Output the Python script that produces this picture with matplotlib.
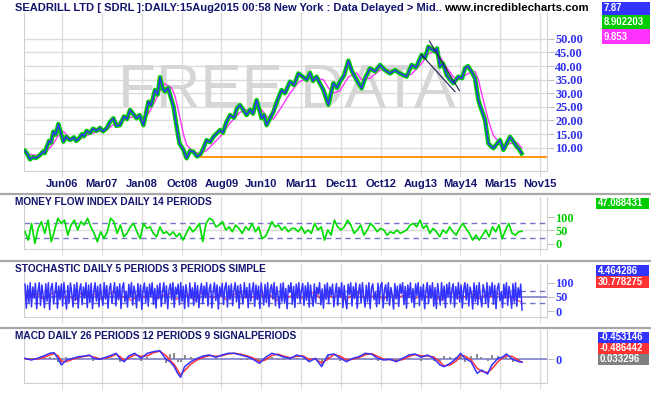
import numpy as np
import matplotlib

matplotlib.use("Agg")
import matplotlib.pyplot as plt
from matplotlib.lines import Line2D
from matplotlib.patches import Rectangle

plt.rcParams["font.family"] = ["Liberation Sans", "DejaVu Sans"]

W, H = 651, 395

# x axis is the trading session number counted from the first bar
tick_sessions = [190, 389, 588, 788, 987, 1186, 1385, 1584, 1784, 1983, 2182, 2381, 2580]
tick_labels = ["Jun06", "Mar07", "Jan08", "Oct08", "Aug09", "Jun10", "Mar11",
               "Dec11", "Oct12", "Aug13", "May14", "Mar15", "Nov15"]
last_session = 2615

# price panel
sessions = [5, 15, 30, 45, 60, 80, 95, 104, 113, 125, 135, 147, 158, 172, 182, 197,
            210, 230, 250, 260, 272, 290, 300, 313, 330, 345, 363, 380, 395, 413,
            430, 447, 462, 480, 500, 515, 530, 545, 563, 578, 597, 610, 622, 635,
            655, 668, 680, 692, 705, 720, 738, 748, 755, 767, 777, 797, 813, 830,
            847, 865, 880, 895, 913, 930, 947, 980, 995, 1010, 1030, 1050, 1065,
            1080, 1113, 1130, 1145, 1163, 1188, 1200, 1213, 1247, 1265, 1288, 1305,
            1330, 1350, 1372, 1413, 1430, 1445, 1463, 1480, 1497, 1522, 1535, 1547,
            1565, 1580, 1600, 1622, 1640, 1663, 1688, 1705, 1730, 1755, 1780, 1805,
            1830, 1855, 1880, 1913, 1938, 1960, 1988, 2005, 2022, 2055, 2065, 2080,
            2095, 2113, 2130, 2147, 2172, 2190, 2205, 2220, 2238, 2255, 2272, 2280,
            2288, 2305, 2322, 2335, 2347, 2380, 2397, 2410, 2430, 2445, 2463, 2475,
            2488]
close = [8.8, 7.9, 5.7, 6.5, 6.2, 7.3, 8.6, 8.0, 10.1, 12.5, 11.8, 15.9, 14.8, 18.7,
         16.0, 12.2, 14.0, 12.8, 13.8, 12.5, 13.1, 15.0, 14.2, 16.2, 15.4, 17.0, 16.2,
         17.3, 16.0, 17.1, 19.5, 20.8, 18.0, 18.3, 21.5, 20.5, 23.9, 22.5, 20.8, 22.0,
         18.3, 22.5, 26.9, 25.5, 31.2, 29.5, 35.9, 32.0, 30.6, 32.0, 27.5, 25.0, 21.4,
         16.0, 11.6, 9.2, 6.1, 8.8, 8.5, 6.8, 7.3, 9.5, 12.8, 12.0, 14.0, 16.5, 15.5,
         19.0, 22.0, 21.0, 24.5, 25.7, 22.0, 24.0, 22.5, 27.5, 20.8, 22.0, 18.3, 23.2,
         27.0, 31.2, 30.0, 34.3, 33.0, 37.3, 34.9, 37.5, 34.5, 36.1, 33.5, 31.2, 25.7,
         30.0, 33.7, 32.0, 34.3, 36.5, 42.0, 38.0, 34.9, 31.8, 35.5, 39.2, 38.0, 40.4,
         38.5, 37.3, 38.5, 37.3, 36.1, 40.4, 39.5, 44.1, 43.0, 47.1, 45.3, 46.5, 39.8,
         41.0, 36.7, 35.0, 33.7, 36.1, 35.5, 39.2, 40.0, 37.9, 35.5, 27.5, 25.5, 23.9,
         20.2, 11.6, 10.5, 9.8, 12.8, 9.2, 11.0, 14.0, 12.5, 10.4, 9.5, 7.9]
ma_sessions = [5, 30, 80, 113, 147, 172, 197, 230, 272, 313, 363, 413, 447, 480, 530,
               563, 597, 622, 655, 680, 705, 738, 755, 777, 797, 813, 847, 880, 913,
               947, 980, 1030, 1080, 1113, 1163, 1188, 1213, 1247, 1288, 1330, 1372,
               1413, 1463, 1497, 1522, 1547, 1580, 1622, 1663, 1688, 1730, 1780, 1830,
               1880, 1913, 1938, 1988, 2022, 2055, 2080, 2113, 2147, 2172, 2205, 2238,
               2255, 2272, 2288, 2305, 2322, 2347, 2380, 2397, 2430, 2463, 2488]
moving_avg = [7.5, 7.5, 7.0, 8.5, 11.5, 14.5, 16.0, 13.5, 12.8, 14.5, 15.8, 16.5, 18.5,
              19.5, 21.0, 22.0, 21.0, 22.5, 27.0, 31.0, 33.5, 32.0, 29.0, 22.0, 15.0,
              11.0, 8.5, 7.8, 9.0, 11.5, 14.0, 19.0, 23.0, 24.0, 24.5, 24.0, 21.5, 20.5,
              25.0, 30.0, 34.0, 35.5, 35.5, 35.0, 32.0, 30.0, 31.0, 36.0, 37.5, 35.0,
              35.5, 38.5, 38.5, 37.5, 36.5, 37.0, 41.0, 44.5, 45.5, 43.5, 39.5, 36.0,
              35.0, 36.5, 38.0, 38.0, 35.0, 30.0, 25.0, 20.0, 14.5, 11.5, 11.0, 11.5,
              12.0, 9.9]
price_ticks = [10, 15, 20, 25, 30, 35, 40, 45, 50]
support_start, support_level = 880, 6.7
trend_a = ([2027, 2177], [49.2, 31.0])
trend_b = ([1988, 2155], [44.1, 30.6])

# money flow index
mfi = [45, 13, 77, 0, 58, 84, 39, 90, 7, 52, 97, 77, 90, 32, 71, 90, 52, 84, 71, 97,
       64, 39, 7, 45, 19, 45, 97, 84, 39, 71, 26, 39, 64, 77, 45, 19, 77, 58, 64, 39,
       26, 64, 39, 45, 32, 45, 26, 39, 13, 39, 64, 45, 58, 77, 7, 77, 97, 90, 64, 71,
       84, 52, 64, 45, 71, 58, 39, 64, 52, 77, 45, 64, 19, 26, 52, 84, 64, 71, 52, 64,
       45, 58, 58, 45, 64, 39, 52, 39, 77, 52, 64, 13, 52, 32, 90, 64, 52, 64, 90, 71,
       39, 52, 71, 32, 52, 77, 64, 45, 58, 52, 32, 45, 39, 52, 39, 45, 52, 71, 77, 64,
       90, 58, 71, 39, 58, 45, 26, 52, 39, 64, 45, 32, 58, 77, 58, 39, 13, 32, 13, 32,
       52, 26, 64, 45, 71, 19, 52, 77, 39, 32, 45, 47]

# stochastic %K and %D
stoch_k = [95, 10, 90, 30, 100, 15, 85, 45, 98, 8, 70, 100, 20, 92, 55, 12, 96, 35, 100, 5, 80, 97, 25, 60,
           100, 10, 88, 40, 95, 18, 100, 50, 7, 90, 28, 99, 65, 14, 93, 38, 100, 10, 75, 96, 22, 85, 45, 100,
           12, 92, 30, 98, 8, 70, 100, 35, 88, 15, 95, 52, 20, 100, 42, 90, 10, 78, 97, 27, 63, 100, 18, 86,
           40, 96, 9, 82, 100, 33, 70, 14, 94, 48, 100, 21, 88, 60, 11, 97, 36, 92, 6, 74, 99, 30, 85, 17,
           95, 50, 100, 24, 80, 10, 91, 43, 98, 16, 67, 100, 29, 89, 8, 76, 96, 39, 100, 13, 84, 57, 95, 22,
           100, 34, 87, 9, 93, 61, 15, 99, 44, 82, 20, 100, 31, 90, 12, 72, 97, 26, 88, 47, 100, 18, 79, 95,
           11, 68, 100, 37, 92, 7, 86, 53, 98, 23, 81, 100, 14, 90, 41, 96, 19, 74, 100, 32, 89, 10, 94, 58,
           25, 100, 46, 83, 12, 97, 35, 71, 100, 16, 92, 40, 88, 9, 99, 62, 21, 94, 30, 100, 15, 77, 93, 42,
           100, 19, 86, 54, 11, 96, 33, 100, 27, 80, 8, 91, 66, 100, 24, 87, 13, 95, 45, 100, 30, 73, 97, 20,
           89, 38, 100, 14, 92, 50, 17, 96, 29, 84, 60, 100, 22, 78, 10, 93, 41, 99, 26, 85, 55, 95, 15, 64,
           97, 20, 84, 48, 100, 12, 90, 36, 8, 95, 58, 100, 18, 86, 44, 99, 10, 70, 94, 28, 100, 52, 14, 91,
           33, 100, 9, 80, 96, 40, 66, 15, 98, 26, 89, 100, 11, 75, 93, 35, 100, 20, 83, 56, 7, 97, 43, 88,
           16, 95, 62, 100, 23, 87, 10, 92, 47, 100, 30, 79, 13, 96, 55, 100, 19, 85, 38, 94, 8, 71, 100, 26,
           90, 45, 100, 17, 83, 9, 97, 59, 21, 100, 37, 88, 12, 94, 50, 100, 25, 78, 96, 14, 86, 42, 100, 31,
           92, 11, 76, 100, 39, 95, 18, 85, 63, 7, 99, 34, 90, 22, 100, 48, 15, 93, 70, 27, 100, 13, 88, 53,
           100, 24, 91, 8, 80, 98, 36, 67, 12, 94, 45, 100, 20, 87, 58, 10, 96, 32, 100, 17, 82, 49, 95, 4]
stoch_d = [55, 48, 62, 40, 58, 70, 45, 52, 38, 66, 50, 60, 42, 57, 68, 46, 53, 35, 61, 49,
           72, 44, 56, 63, 41, 50, 58, 37, 65, 54, 47, 60, 39, 55, 67, 48, 52, 43, 62, 57,
           36, 59, 50, 64, 45, 53, 70, 42, 55, 48, 61, 38, 57, 66, 44, 51, 59, 40, 63, 47,
           54, 68, 43, 56, 50, 60, 37, 58, 65, 45, 52, 62, 41, 55, 49, 64, 46, 53, 40, 31]
stoch_bands = [72, 28]

# MACD
macd_sessions = [5, 36, 67, 98, 129, 150, 170, 187, 212, 243, 274, 305, 326, 347, 378,
                 409, 440, 461, 482, 502, 523, 554, 585, 617, 648, 679, 710, 731, 751,
                 768, 783, 803, 834, 866, 897, 928, 959, 990, 1021, 1052, 1083, 1115,
                 1146, 1177, 1208, 1239, 1270, 1301, 1332, 1364, 1395, 1426, 1457, 1488,
                 1519, 1550, 1582, 1613, 1644, 1675, 1706, 1737, 1768, 1799, 1831, 1862,
                 1893, 1924, 1955, 1986, 2017, 2048, 2080, 2100, 2131, 2162, 2183, 2204,
                 2235, 2266, 2287, 2318, 2339, 2370, 2391, 2412, 2443, 2474, 2490]
macd = [0.16, -0.12, 0.16, 0.55, 1.0, 1.1, 0.16, -0.95, -0.12, 0.16,
        0.44, 0.55, 0.72, 0.16, -0.01, 0.33, 0.72, 1.0, -0.01, -0.4,
        0.55, 1.0, 0.16, 1.0, 1.27, 1.44, -0.01, -0.4, -1.23, -2.34,
        -3.0, -1.23, -0.4, 0.16, 0.55, 0.72, 0.33, 0.72, 1.0, 1.0,
        0.72, 0.44, -0.01, -0.67, 0.33, 1.0, 0.72, 0.33, 0.16, 0.72,
        0.44, -0.4, 0.16, -1.23, 0.72, 0.88, 0.16, -0.4, 0.16, 0.44,
        1.0, 0.88, 0.16, -0.12, -0.01, -0.4, 0.16, 0.72, 0.88, 0.33,
        0.72, 0.16, -0.95, -1.23, -0.67, 0.16, 1.0, 0.16, -0.4, -2.34,
        -1.78, -2.45, -0.95, 0.16, 0.33, 0.88, -0.01, -0.4, -0.45]
signal = [0.1, 0.0, 0.05, 0.3, 0.7, 0.95, 0.6, -0.3, -0.4, 0.0,
          0.3, 0.5, 0.62, 0.4, 0.1, 0.2, 0.5, 0.85, 0.4, -0.2,
          0.2, 0.75, 0.5, 0.6, 1.1, 1.35, 0.6, -0.2, -0.85, -1.8,
          -2.6, -1.9, -0.8, -0.1, 0.35, 0.62, 0.5, 0.6, 0.9, 1.0,
          0.85, 0.58, 0.2, -0.35, -0.1, 0.65, 0.85, 0.5, 0.25, 0.5,
          0.55, 0.0, 0.0, -0.6, 0.0, 0.8, 0.5, -0.1, 0.0, 0.3,
          0.75, 0.95, 0.5, 0.0, -0.05, -0.25, -0.05, 0.45, 0.8, 0.6,
          0.55, 0.4, -0.45, -1.1, -0.95, -0.25, 0.6, 0.55, -0.1, -1.5,
          -2.0, -2.2, -1.6, -0.4, 0.2, 0.6, 0.45, -0.2, -0.49]
histogram = [0.05, -0.1, 0.1, 0.25, 0.3, 0.15, -0.45, -0.65, 0.3, 0.15,
             0.15, 0.05, 0.1, -0.25, -0.1, 0.15, 0.2, 0.15, -0.4, -0.2,
             0.35, 0.25, -0.35, 0.4, 0.2, 0.1, -0.6, 0.9, 1.1, -0.5,
             -0.4, 0.7, 0.4, 0.25, 0.2, 0.1, -0.15, 0.12, 0.1, 0.0,
             -0.12, -0.15, -0.2, -0.3, 0.4, 0.35, -0.12, -0.17, -0.1, 0.22,
             -0.1, -0.4, 0.15, -1.0, 0.7, 0.1, -0.35, -0.3, 0.15, 0.15,
             0.25, -0.07, -0.35, -0.12, 0.05, -0.15, 0.2, 0.27, 0.08, -0.27,
             0.17, -0.25, -0.5, 0.6, 0.3, 0.4, 0.4, -0.4, 0.5, 0.8,
             0.3, -0.25, 0.65, 0.55, 0.15, 0.3, -0.45, -0.2, 0.03]

NAVY = "#14146e"
BLUE = "#3333ff"
GRID = "#dcdcdc"
BAND = "#7474c8"


def rect(left, top, right, bottom):
    return [left / W, 1 - bottom / H, (right - left) / W, (bottom - top) / H]


def style_panel(ax, ylim, yticks, label_color, show_dates=False, fmt="{:g}"):
    ax.set_xlim(0, last_session)
    ax.set_ylim(*ylim)
    ax.set_xticks(tick_sessions, tick_labels if show_dates else [])
    ax.set_yticks(yticks, [fmt.format(v) for v in yticks])
    ax.yaxis.tick_right()
    ax.grid(True, axis="x", color=GRID, lw=1)
    ax.set_axisbelow(True)
    ax.spines["top"].set_visible(False)
    for side in ("left", "right", "bottom"):
        ax.spines[side].set_color("#d0d0d0")
    ax.tick_params(axis="x", length=4, color=GRID, pad=2, labelsize=8,
                   labelcolor=NAVY)
    ax.tick_params(axis="y", length=5, color="#c0c0c0", pad=1, labelsize=8.8,
                   labelcolor=label_color)
    for lbl in ax.get_xticklabels():
        lbl.set_fontweight("bold")
    for lbl in ax.get_yticklabels():
        lbl.set_fontweight("bold")
        lbl.set_family("Liberation Serif")


def value_box(x0, x1, y0, y1, text, color):
    fig.add_artist(Rectangle((x0 / W, 1 - y1 / H), (x1 - x0) / W, (y1 - y0) / H,
                             transform=fig.transFigure, color=color, lw=0))
    fig.text((x0 + 1.5) / W, 1 - (y0 + y1) / 2 / H, text, color="white",
             fontsize=6.9, fontweight="bold", va="center", ha="left")


fig = plt.figure(figsize=(W / 100, H / 100), dpi=100)
fig.patch.set_facecolor("white")

# price panel
ax0 = fig.add_axes(rect(24, 13, 547, 171))
ax0.plot(ma_sessions, moving_avg, color="#ff33ff", lw=1.0, zorder=2)
ax0.plot(sessions, close, color="#00cc00", lw=3.2, zorder=3)
ax0.plot(sessions, close, color=BLUE, lw=1.1, zorder=4)
ax0.hlines(support_level, support_start, last_session, color="#ff8c00", lw=1.3, zorder=3)
ax0.plot(*trend_a, color="#1a1a50", lw=0.8, zorder=5)
ax0.plot(*trend_b, color="#1a1a50", lw=0.8, zorder=5)
style_panel(ax0, (1.43, 59.5), price_ticks, "#3030e8", show_dates=True, fmt="{:.2f}")
ax0.grid(True, axis="y", color=GRID, lw=1)
ax0.text(286.5 / W, 1 - 107 / H, "FREE DATA", transform=fig.transFigure,
         ha="center", va="baseline", fontsize=44.5, color="#d6d6d6", zorder=1)

# money flow index panel
ax1 = fig.add_axes(rect(24, 197, 547, 249.3))
mfi_x = np.linspace(sessions[0], macd_sessions[-1], len(mfi))
ax1.plot(mfi_x, mfi, color="#00dd00", lw=1.2, zorder=3)
ax1.axhline(50, color=GRID, lw=1, zorder=1)
for level in (80, 20):
    ax1.axhline(level, color=BAND, lw=1, ls=(0, (4, 3)), zorder=2)
style_panel(ax1, (-22.3, 178.8), [0, 50, 100], "#00cc00")

# stochastic panel
ax2 = fig.add_axes(rect(24, 264, 547, 316.7))
k_x = np.linspace(sessions[0], macd_sessions[-1], len(stoch_k))
d_x = np.linspace(sessions[0], macd_sessions[-1], len(stoch_d))
ax2.plot(d_x, stoch_d, color="#ff3333", lw=0.8, zorder=2)
ax2.plot(k_x, stoch_k, color=BLUE, lw=1.1, zorder=3)
ax2.axhline(50, color=BAND, lw=1.1, zorder=1)
for level in stoch_bands:
    ax2.axhline(level, color=BAND, lw=1, ls=(0, (4, 3)), zorder=1)
style_panel(ax2, (-20, 166), [0, 50, 100], BLUE)

# MACD panel
ax3 = fig.add_axes(rect(24, 330, 547, 382.7))
ax3.vlines(macd_sessions, 0, histogram, color="#808080", lw=1.3, zorder=2)
ax3.axhline(0, color=BAND, lw=1.1, zorder=1)
ax3.plot(macd_sessions, signal, color="#ff3333", lw=1.1, zorder=3)
ax3.plot(macd_sessions, macd, color=BLUE, lw=1.1, zorder=4)
style_panel(ax3, (-3.9, 4.88), [0], BLUE)

# panel separators
for y in (194, 261, 327.7):
    fig.add_artist(Line2D([0, 1], [1 - y / H] * 2, transform=fig.transFigure,
                          color="#a8a8a8", lw=1.6))

# titles
fig.text(15 / W, 1 - 8 / H,
         "SEADRILL LTD [ SDRL ]:DAILY:15Aug2015 00:58 New York : Data Delayed > Mid..",
         color=NAVY, fontsize=8, fontweight="bold", va="center")
fig.text(444 / W, 1 - 8 / H, "www.incrediblecharts.com", color="black",
         fontsize=8.2, fontweight="bold", va="center")
fig.text(15 / W, 1 - 202 / H, "MONEY FLOW INDEX DAILY 14 PERIODS", color=NAVY,
         fontsize=7.3, fontweight="bold", va="center")
fig.text(15 / W, 1 - 269 / H, "STOCHASTIC DAILY 5 PERIODS 3 PERIODS SIMPLE",
         color=NAVY, fontsize=7.3, fontweight="bold", va="center")
fig.text(15 / W, 1 - 335.7 / H, "MACD DAILY 26 PERIODS 12 PERIODS 9 SIGNALPERIODS",
         color=NAVY, fontsize=7.3, fontweight="bold", va="center")

# latest values
value_box(602, 650, 1.7, 15, "7.87", BLUE)
value_box(602, 650, 15, 29.3, "8.902203", "#00cc00")
value_box(602, 650, 29.3, 44, "9.853", "#ff33ff")
value_box(596, 649, 198, 209, "47.088431", "#00cc00")
value_box(596, 649, 265, 276, "4.464286", BLUE)
value_box(596, 649, 276, 288, "30.778275", "#ff3333")
value_box(598, 649, 331.7, 342.7, "-0.453146", BLUE)
value_box(598, 649, 342.7, 354, "-0.486442", "#ff3333")
value_box(598, 649, 354, 365, "0.033296", "#808080")

fig.savefig("out.png", dpi=100)
